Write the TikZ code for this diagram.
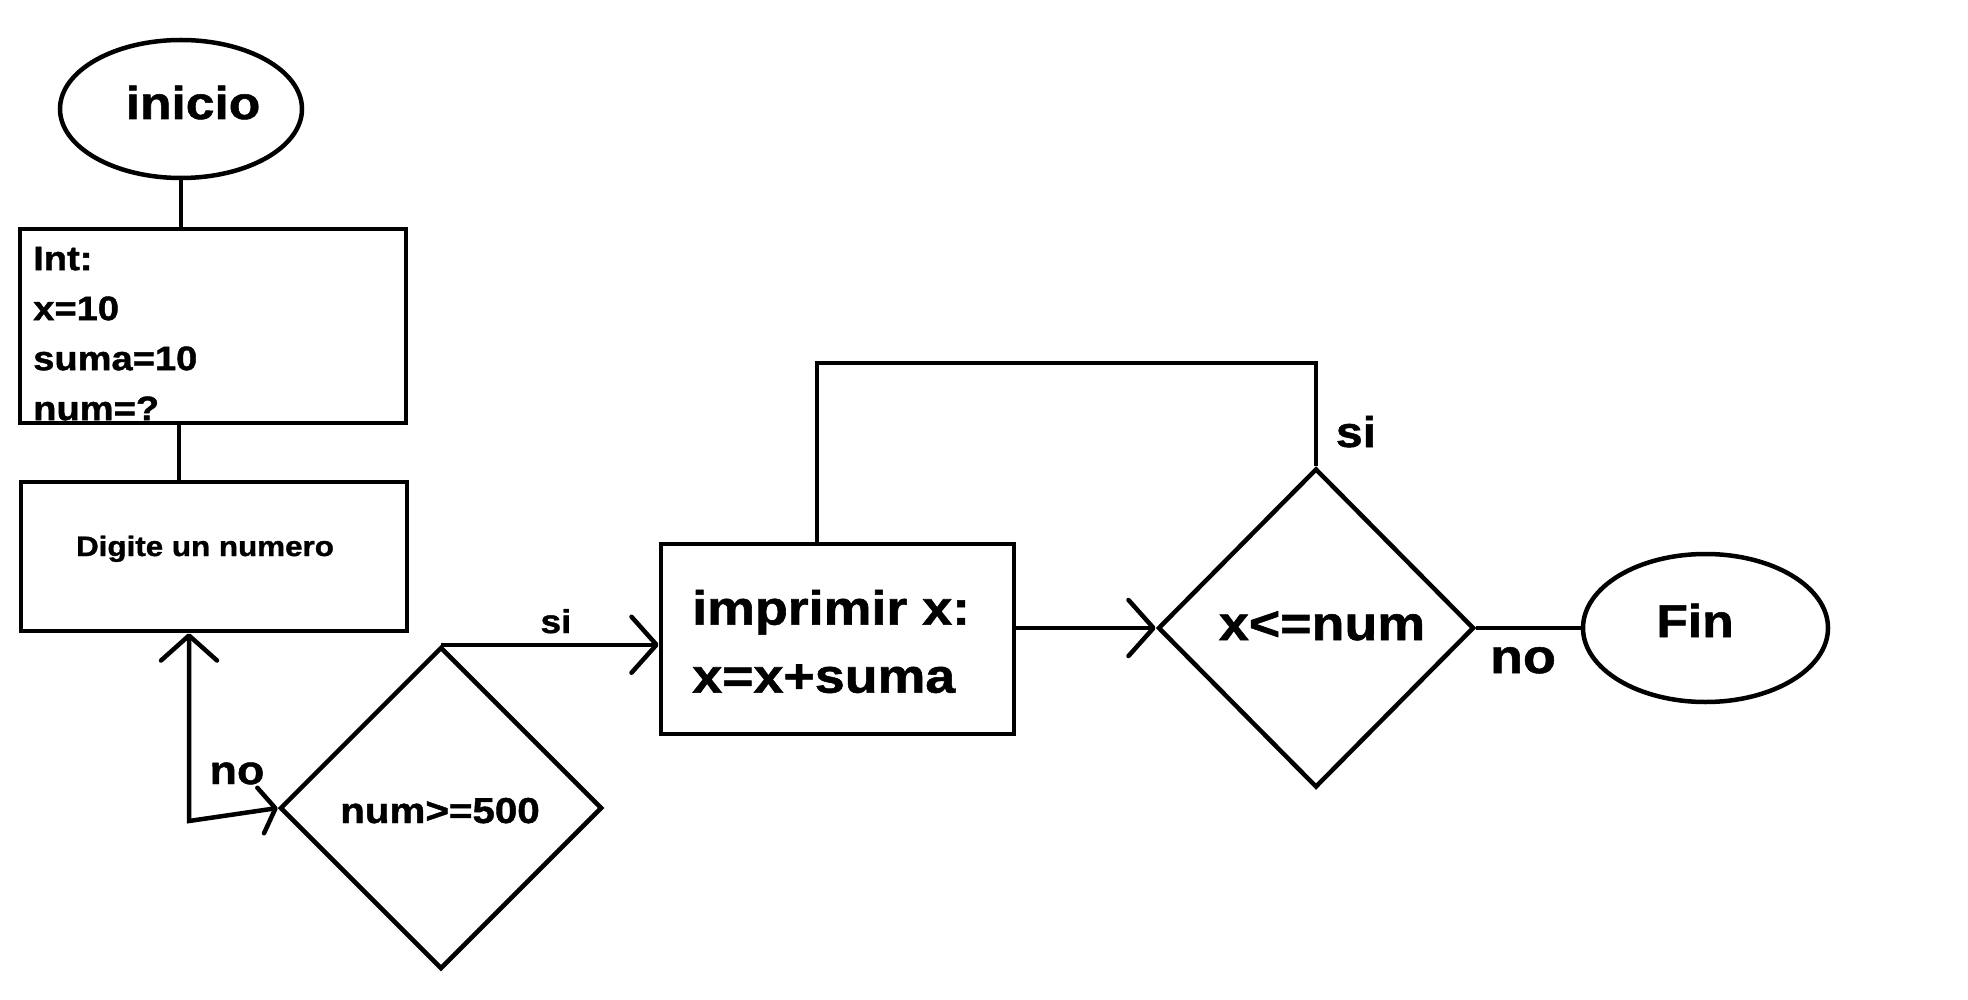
\documentclass[tikz,border=0pt]{standalone}
\usepackage{fontspec}
\newfontfamily\diag{Liberation Sans}[FakeStretch=1.12, BoldFeatures={FakeBold=1.2}]
\usetikzlibrary{arrows.meta,shapes.geometric}
\newcommand\dfs[1]{\fontsize{#1}{#1}\selectfont}
\begin{document}
\begin{tikzpicture}[x=1pt,y=-1pt, line width=4.5pt,
  shp/.style={draw, line width=4.5pt, inner sep=0pt},
  lbl/.style={inner sep=0pt, anchor=base, text=black},
  mtxt/.style={inner sep=0pt, anchor=north west, align=left, text=black},
  barb/.tip={Straight Barb[length=25pt,width=56pt,round]},
  sbarb/.tip={Straight Barb[length=15pt,width=46pt,round]},
  arr/.style={-barb}]
\useasboundingbox[fill=white] (0,0) rectangle (1968,1000);

% shapes
\node[shp, ellipse, minimum width=242pt, minimum height=138pt] (inicio) at (181,109) {};
\node[shp, rectangle, minimum width=386pt, minimum height=194pt] (intbox) at (213,326) {};
\node[shp, rectangle, minimum width=386pt, minimum height=149pt] (digite) at (214,556.5) {};
\node[shp, diamond, minimum width=322pt, minimum height=322pt] (numdia) at (441,808) {};
\node[shp, rectangle, minimum width=353pt, minimum height=190pt] (imp) at (837.5,639) {};
\node[shp, diamond, minimum width=316pt, minimum height=319pt] (xdia) at (1316,628) {};
\node[shp, ellipse, minimum width=245pt, minimum height=148pt] (fin) at (1705.5,628) {};

% texts
\node[lbl, font=\diag\bfseries\dfs{46}] (tinicio) at (193,119) {inicio};
\node[mtxt, font=\diag\bfseries\fontsize{34}{50}\selectfont] (tint) at (31,244.5) {Int:\\x=10\\suma=10\\num=?};
\node[lbl, font=\diag\bfseries\dfs{28}] (tdigite) at (205,556) {Digite un numero};
\node[lbl, font=\diag\bfseries\dfs{36}] (tnum) at (440,823) {num>=500};
\node[mtxt, font=\diag\bfseries\fontsize{48}{68}\selectfont] (timp) at (690,587.6) {imprimir x:\\x=x+suma};
\node[lbl, font=\diag\bfseries\dfs{48}] (txdia) at (1322,640) {x<=num};
\node[lbl, font=\diag\bfseries\dfs{46}] (tfin) at (1695,637) {Fin};

% connector labels
\node[lbl, font=\diag\bfseries\dfs{33}] (lsi1) at (556,633) {si};
\node[lbl, font=\diag\bfseries\dfs{40}] (lno1) at (237,784) {no};
\node[lbl, font=\diag\bfseries\dfs{43}] (lsi2) at (1356,447) {si};
\node[lbl, font=\diag\bfseries\dfs{48}] (lno2) at (1523,673) {no};

% connectors
\coordinate (c1) at (189,821);
\coordinate (looptop) at (1316,363);
\draw (inicio.south) -- (inicio.south |- intbox.north);
\draw ([xshift=-34pt]intbox.south) -- ([xshift=-34pt]intbox.south |- digite.north);
\draw[sbarb-barb] (numdia.west) -- (c1) -- (c1 |- digite.south);
\draw[arr] (numdia.north) -- (numdia.north -| imp.west);
\draw[arr] (imp.east |- xdia.west) -- (xdia.west);
\draw (xdia.north) -- (looptop) -| ([xshift=-20.5pt]imp.north);
\draw (xdia.east) -- (fin.west);
\end{tikzpicture}
\end{document}
